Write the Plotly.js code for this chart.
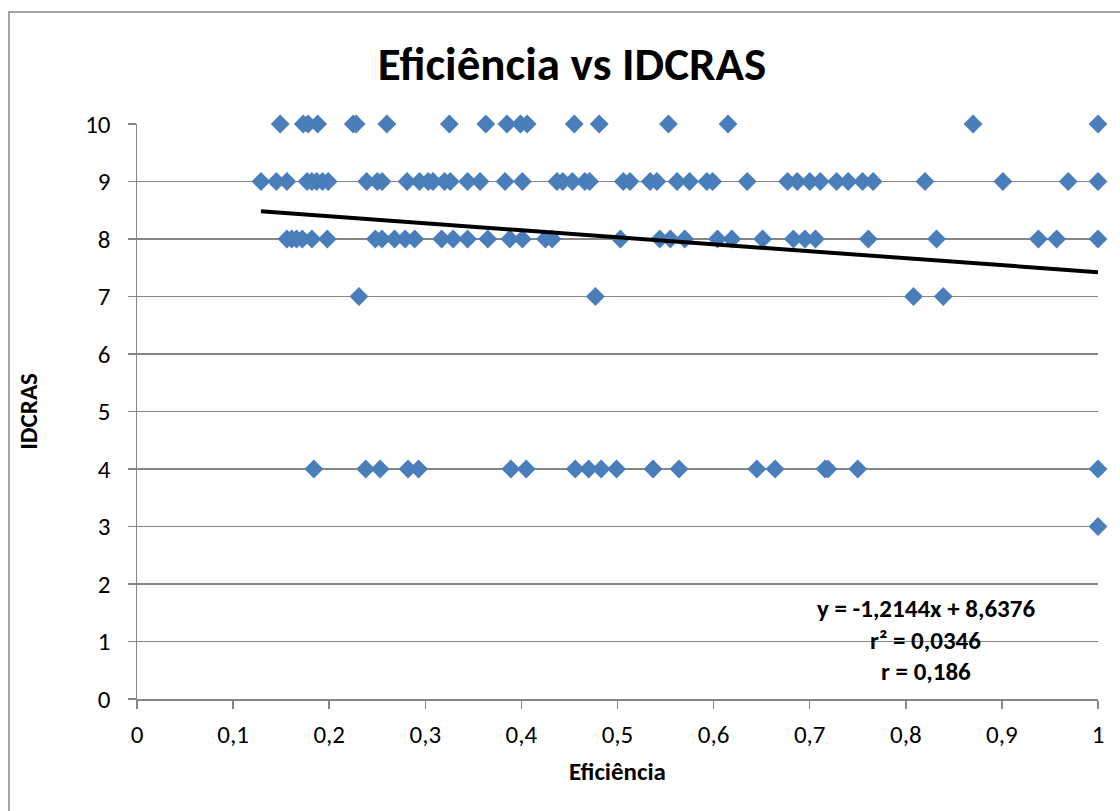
<!DOCTYPE html>
<html>
<head>
<meta charset="utf-8">
<script src="https://cdn.plot.ly/plotly-3.0.1.min.js"></script>
<style>
html,body{margin:0;padding:0;background:#fff;overflow:hidden;}
#chart{width:1120px;height:811px;}
</style>
</head>
<body>
<div id="chart"></div>
<script>
// Eficiência values grouped by IDCRAS level
const idcrasLevels = [10, 9, 8, 7, 4, 3];
const efIdcras10 = [0.149, 0.173, 0.178, 0.188, 0.225, 0.228, 0.260, 0.325, 0.363, 0.385, 0.399, 0.406, 0.455, 0.481, 0.553, 0.615, 0.870, 1.0];
const efIdcras9 = [0.129, 0.145, 0.156, 0.177, 0.182, 0.187, 0.193, 0.199, 0.239, 0.250, 0.255, 0.281, 0.294, 0.303, 0.308, 0.320, 0.326, 0.344, 0.357, 0.383, 0.401, 0.437, 0.443, 0.453, 0.466, 0.471, 0.506, 0.513, 0.534, 0.541, 0.562, 0.575, 0.593, 0.599, 0.635, 0.677, 0.687, 0.700, 0.711, 0.728, 0.740, 0.755, 0.766, 0.820, 0.901, 0.969, 1.0];
const efIdcras8 = [0.156, 0.161, 0.166, 0.172, 0.182, 0.198, 0.248, 0.255, 0.268, 0.279, 0.289, 0.317, 0.329, 0.344, 0.365, 0.388, 0.401, 0.425, 0.432, 0.503, 0.544, 0.555, 0.570, 0.604, 0.619, 0.651, 0.683, 0.695, 0.706, 0.761, 0.832, 0.938, 0.957, 1.0];
const efIdcras7 = [0.231, 0.477, 0.808, 0.839];
const efIdcras4 = [0.184, 0.238, 0.253, 0.282, 0.293, 0.389, 0.405, 0.456, 0.470, 0.483, 0.499, 0.537, 0.564, 0.645, 0.664, 0.716, 0.719, 0.750, 1.0];
const efIdcras3 = [1.0];

// Linear trend reported on the chart
const trendSlope = -1.2144;
const trendIntercept = 8.6376;
const trendLabels = ["y = -1,2144x + 8,6376", "r² = 0,0346", "r = 0,186"];

const xTickVals = [0, 0.1, 0.2, 0.3, 0.4, 0.5, 0.6, 0.7, 0.8, 0.9, 1];
const xTickText = ["0", "0,1", "0,2", "0,3", "0,4", "0,5", "0,6", "0,7", "0,8", "0,9", "1"];
const yTickVals = [0, 1, 2, 3, 4, 5, 6, 7, 8, 9, 10];

const groups = [efIdcras10, efIdcras9, efIdcras8, efIdcras7, efIdcras4, efIdcras3];
const xs = [], ys = [];
groups.forEach((g, i) => g.forEach(v => { xs.push(v); ys.push(idcrasLevels[i]); }));

const xMin = Math.min(...xs), xMax = Math.max(...xs);

const FONT = 'Carlito, Calibri, Lato, sans-serif';

const traces = [
  {
    type: 'scatter', mode: 'markers', x: xs, y: ys,
    marker: {symbol: 'diamond', size: 14.5, color: '#4A7EBB', line: {width: 0}},
    hoverinfo: 'x+y', showlegend: false, cliponaxis: false
  },
  {
    type: 'scatter', mode: 'lines',
    x: [xMin, xMax],
    y: [trendSlope * xMin + trendIntercept, trendSlope * xMax + trendIntercept],
    line: {color: '#000000', width: 4},
    showlegend: false, hoverinfo: 'skip'
  }
];

const annY = [1.58, 1.01, 0.47];
const annotations = trendLabels.map((t, i) => ({
  xref: 'x', yref: 'y', x: 0.821, y: annY[i], text: '<b>' + t + '</b>', showarrow: false,
  xanchor: 'center', yanchor: 'middle',
  font: {family: FONT, size: 25, color: '#000'}
}));

const layout = {
  width: 1120, height: 811,
  paper_bgcolor: '#ffffff', plot_bgcolor: '#ffffff',
  margin: {l: 137, r: 22, t: 124, b: 112},
  font: {family: FONT, color: '#000'},
  title: {
    text: '<b>Eficiência vs IDCRAS</b>',
    font: {family: FONT, size: 47, color: '#000'},
    x: (572 - 137) / 961, xanchor: 'center', xref: 'paper',
    y: 1 - 64 / 811, yanchor: 'middle', yref: 'container'
  },
  xaxis: {
    range: [0, 1], tickvals: xTickVals, ticktext: xTickText,
    showgrid: false, zeroline: false,
    showline: true, linecolor: '#868686', linewidth: 1.5,
    ticks: 'outside', ticklen: 8, tickcolor: '#868686', tickwidth: 1.5,
    tickfont: {family: FONT, size: 25, color: '#000'},
    ticklabelstandoff: 4,
    title: {text: '<b>Eficiência</b>', font: {family: FONT, size: 25, color: '#000'}, standoff: 14}
  },
  yaxis: {
    range: [0, 10], tickvals: yTickVals,
    showgrid: true, gridcolor: '#868686', gridwidth: 1.5,
    zeroline: false,
    showline: true, linecolor: '#868686', linewidth: 1.5,
    ticks: 'outside', ticklen: 8, tickcolor: '#868686', tickwidth: 1.5,
    tickfont: {family: FONT, size: 25, color: '#000'},
    ticklabelstandoff: 12,
    title: {text: '<b>IDCRAS</b>', font: {family: FONT, size: 25, color: '#000'}, standoff: 40}
  },
  annotations: annotations,
  shapes: [{
    type: 'rect', xref: 'paper', yref: 'paper',
    x0: (9 - 137) / 961, x1: 1.2, y0: -0.4, y1: (699 - 12) / 575,
    line: {color: '#868686', width: 1.5}, fillcolor: 'rgba(0,0,0,0)', layer: 'below'
  }]
};

Plotly.newPlot('chart', traces, layout, {displayModeBar: false, staticPlot: true});
</script>
</body>
</html>
